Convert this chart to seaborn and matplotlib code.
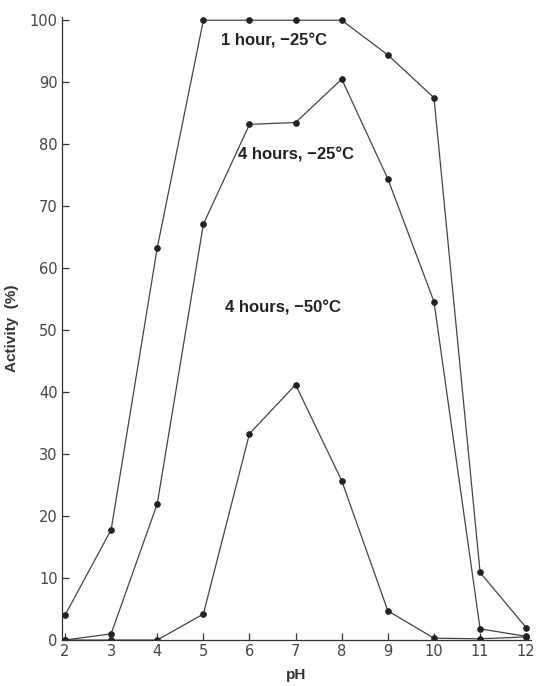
import matplotlib
matplotlib.use('Agg')
import matplotlib.pyplot as plt
import pandas as pd
import seaborn as sns

# Data
ph = [2, 3, 4, 5, 6, 7, 8, 9, 10, 11, 12]
act_1h_25 = [4.0, 17.8, 63.3, 100, 100, 100, 100, 94.4, 87.5, 10.9, 2.0]
act_4h_25 = [0.0, 1.0, 22.0, 67.1, 83.2, 83.5, 90.5, 74.4, 54.6, 1.8, 0.6]
act_4h_50 = [0.0, 0.0, 0.0, 4.2, 33.3, 41.2, 25.7, 4.7, 0.3, 0.2, 0.5]
labels = ['1 hour, \u221225\u00b0C', '4 hours, \u221225\u00b0C', '4 hours, \u221250\u00b0C']

df = pd.DataFrame({
    'pH': ph * 3,
    'activity': act_1h_25 + act_4h_25 + act_4h_50,
    'series': [labels[0]] * len(ph) + [labels[1]] * len(ph) + [labels[2]] * len(ph),
})

sns.set_style('ticks')
plt.rcParams['font.family'] = ['DejaVu Sans']

fig = plt.figure(figsize=(5.37, 6.86), dpi=100)
ax = fig.add_axes([0.1155, 0.067, 0.873, 0.908])

sns.lineplot(data=df, x='pH', y='activity', units='series', estimator=None,
             color='#444444', linewidth=0.9, marker='o', markersize=4,
             markeredgecolor='#222222', markerfacecolor='#222222', ax=ax)

ax.set_xlim(1.935, 12.1)
ax.set_ylim(0, 100.5)
ax.set_xticks(ph)
ax.set_yticks(range(0, 101, 10))
ax.tick_params(direction='in', length=5, width=0.9, colors='#333333',
               labelsize=10.5, labelcolor='#444444', pad=3)
sns.despine(ax=ax)
for s in ['left', 'bottom']:
    ax.spines[s].set_color('#333333')
    ax.spines[s].set_linewidth(0.9)

ax.set_xlabel('pH', fontsize=11, fontweight='bold', color='#333333',
              family='Liberation Sans', labelpad=6)
ax.set_ylabel('Activity  (%)', fontsize=11, fontweight='bold', color='#333333',
              family='Liberation Sans', labelpad=8)

text_pos = [(5.38, 96.6), (5.76, 78.3), (5.46, 53.6)]
for lab, (tx, ty) in zip(labels, text_pos):
    ax.text(tx, ty, lab, fontsize=12, fontweight='bold', color='#222222',
            family='Liberation Sans', ha='left', va='center')

fig.savefig('out.png', dpi=100)
